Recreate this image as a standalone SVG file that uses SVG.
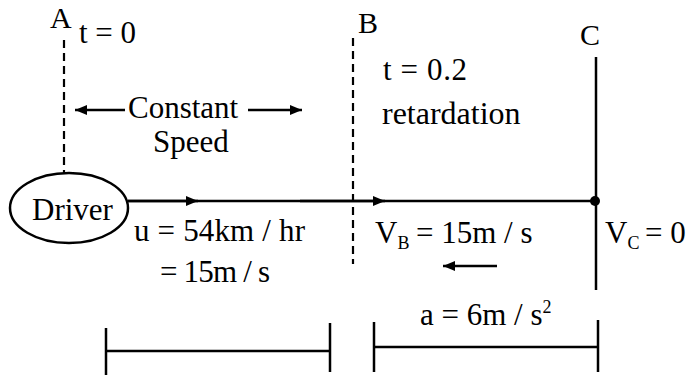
<svg xmlns="http://www.w3.org/2000/svg" width="692" height="378" viewBox="0 0 692 378">
<style>
text{font-family:'Liberation Serif','Times New Roman',serif;font-size:31px;fill:#000}
.lbl{font-size:30px}
.sub{font-size:18px}
.ln{stroke:#000;stroke-width:2.5;fill:none}
.dash{stroke:#000;stroke-width:2.2;stroke-dasharray:8 5;fill:none}
</style>
<defs>
<marker id="ah" viewBox="0 0 12 10" refX="12" refY="5" markerWidth="12" markerHeight="10" markerUnits="userSpaceOnUse" orient="auto">
<path d="M0,0 L12,5 L0,10 Z" fill="#000"/>
</marker>
</defs>
<rect width="692" height="378" fill="#fff"/>
<g id="connectors">
<line class="dash" x1="64" y1="40" x2="64" y2="174"/>
<line class="dash" x1="353" y1="38" x2="353" y2="264"/>
<line class="ln" x1="596" y1="57" x2="596" y2="290"/>
<line class="ln" x1="128" y1="201" x2="596" y2="201"/>
<line class="ln" x1="128" y1="201" x2="198" y2="201" marker-end="url(#ah)"/>
<line class="ln" x1="300" y1="201" x2="385" y2="201" marker-end="url(#ah)"/>
<circle cx="595" cy="201" r="5" fill="#000"/>
<line class="ln" x1="125" y1="110" x2="75" y2="110" marker-end="url(#ah)"/>
<line class="ln" x1="248" y1="110" x2="302" y2="110" marker-end="url(#ah)"/>
<line class="ln" x1="497" y1="266" x2="443" y2="266" marker-end="url(#ah)"/>
<line class="ln" x1="106" y1="351" x2="330" y2="351"/>
<line class="ln" x1="106" y1="328" x2="106" y2="375"/>
<line class="ln" x1="330" y1="323" x2="330" y2="372"/>
<line class="ln" x1="374" y1="347" x2="598" y2="347"/>
<line class="ln" x1="374" y1="322" x2="374" y2="372"/>
<line class="ln" x1="598" y1="320" x2="598" y2="372"/>
</g>
<g id="driver">
<ellipse class="ln" cx="69" cy="208" rx="59" ry="35"/>
<text x="32" y="220">Driver</text>
</g>
<g id="A">
<text class="lbl" x="50" y="28">A</text>
<text x="79" y="43">t = 0</text>
</g>
<g id="B">
<text class="lbl" x="358" y="33">B</text>
<text x="383" y="80" textLength="84">t = 0.2</text>
<text x="382" y="124" style="font-size:32px">retardation</text>
</g>
<g id="C">
<text class="lbl" x="580" y="45">C</text>
</g>
<g id="labels">
<text x="128" y="118">Constant</text>
<text x="153" y="152">Speed</text>
<text x="134" y="241" textLength="171">u = 54km / hr</text>
<text x="160" y="282" textLength="110">= 15m / s</text>
<text x="375" y="243">V<tspan class="sub" dy="6">B</tspan><tspan dy="-6" x="416">= 15m / s</tspan></text>
<text x="605" y="243">V<tspan class="sub" dy="6">C</tspan><tspan dy="-6" x="645">= 0</tspan></text>
<text x="420" y="325">a = 6m / s<tspan font-size="18" dy="-12">2</tspan></text>
</g>
</svg>
